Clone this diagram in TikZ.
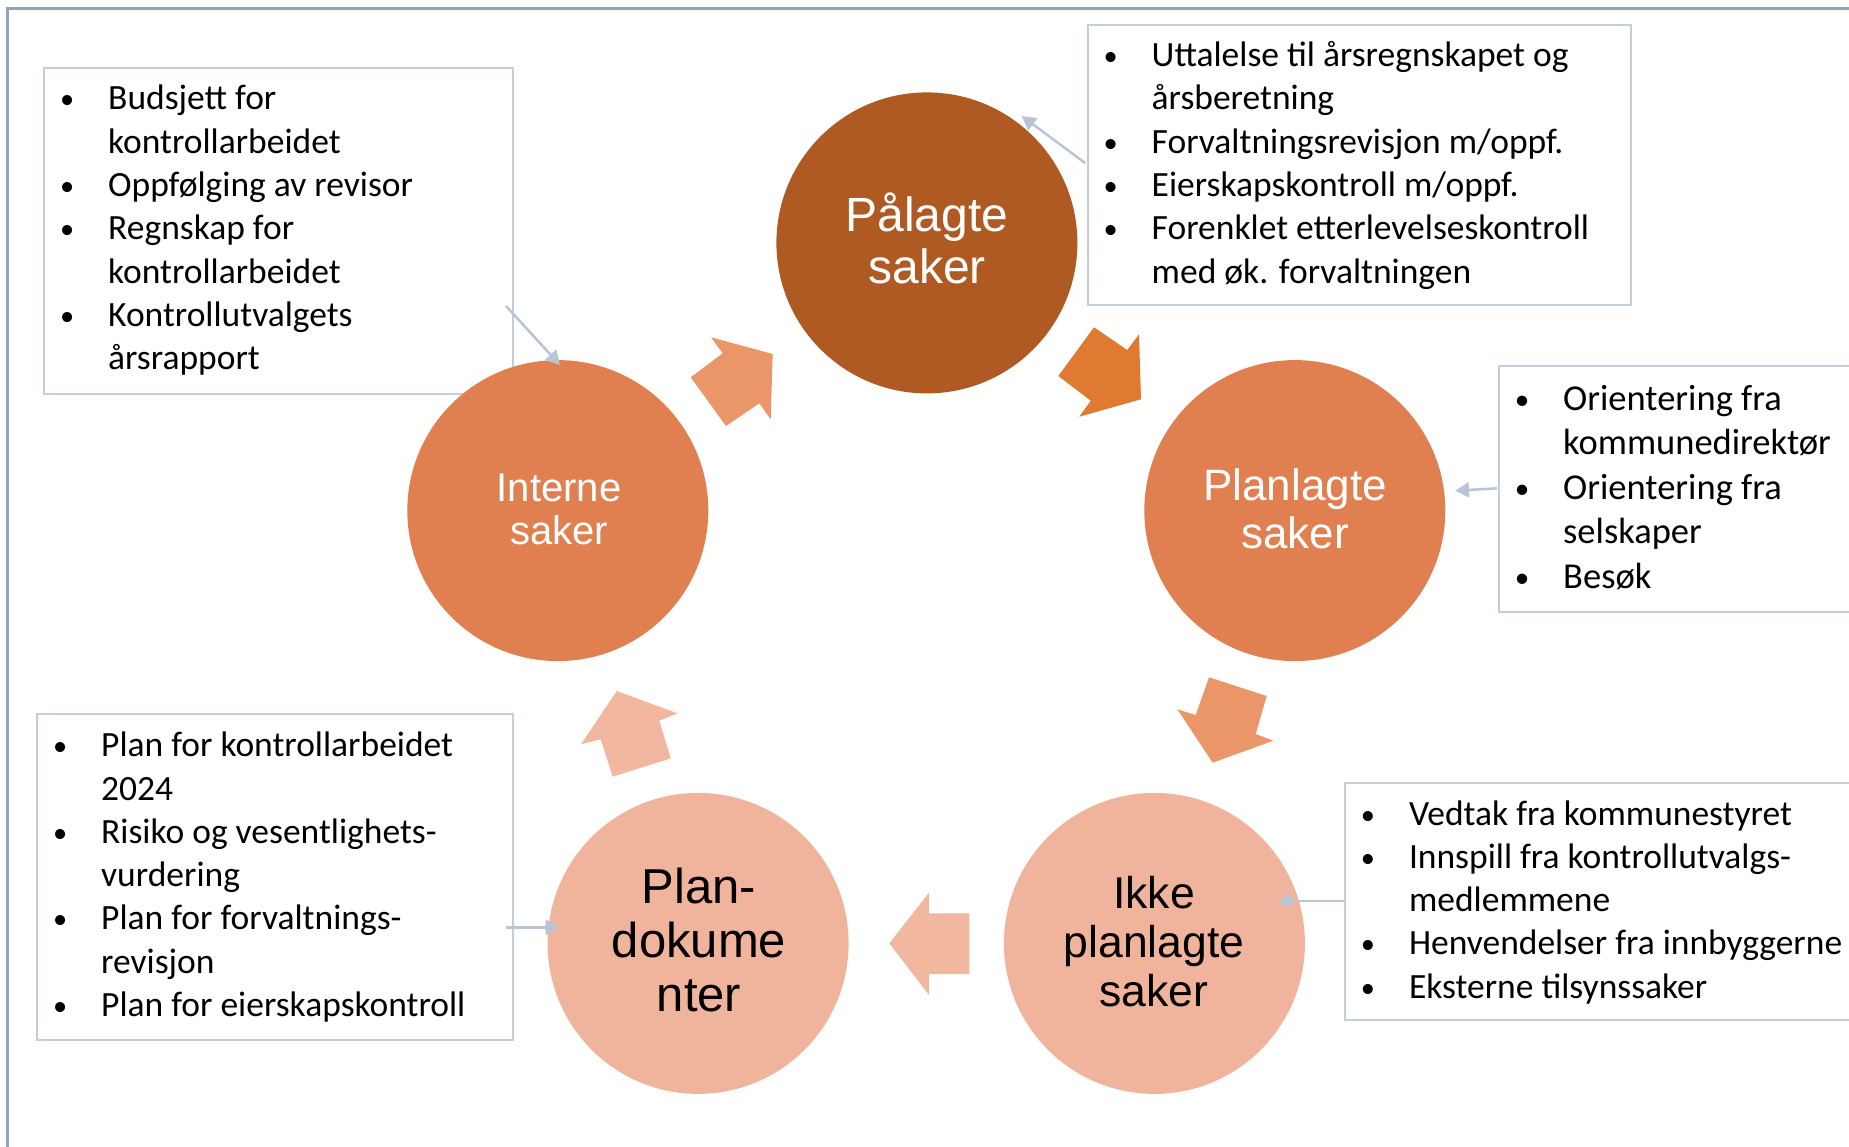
\documentclass[tikz,border=0pt]{standalone}
\usepackage{fontspec}
\setmainfont{Carlito}
\newfontfamily\arialf{Liberation Sans}
\usetikzlibrary{arrows.meta}
\definecolor{framec}{HTML}{8FA3BD}
\definecolor{boxc}{HTML}{C3CEDC}
\definecolor{conc}{HTML}{B7C5D6}
\definecolor{darkc}{HTML}{AE5A22}
\definecolor{midc}{HTML}{E08050}
\definecolor{lightc}{HTML}{F0B49C}
\definecolor{arA}{HTML}{E07A32}
\definecolor{arB}{HTML}{EB9668}
\definecolor{arC}{HTML}{F1B79F}
\newcommand{\bitem}{\leavevmode\llap{\makebox[16pt][c]{\raisebox{1pt}{\scalebox{0.8}{•}}}\hspace{33pt}}}
\newcommand{\blst}[2]{\parbox[t]{#1}{\raggedright\fontsize{35.5}{43.3}\selectfont #2}}
\newcommand{\clab}[3]{\parbox[t]{300pt}{\centering\arialf\fontsize{#1}{#2}\selectfont #3}}
\tikzset{
  infobox/.style={draw=boxc, line width=2pt, fill=white, rectangle, inner sep=0pt, anchor=north west},
  listtext/.style={anchor=base west, inner sep=0pt, text=black},
  bubble/.style={circle, inner sep=0pt, minimum size=301pt},
  bubtext/.style={anchor=base, inner sep=0pt},
  conn/.style={draw=conc, line width=2.5pt, -{Triangle[length=14pt,width=15pt]}},
}
\begin{document}
\begin{tikzpicture}[x=1pt,y=-1pt]
\useasboundingbox (0,0) rectangle (1849,1147);
\clip (0,0) rectangle (1849,1147);
\fill[white] (0,0) rectangle (1849,1147);
% outer frame
\draw[framec, line width=3pt] (7,1160) -- (7,9) -- (1860,9);

% info boxes (behind the circles)
\node[infobox, minimum width=469pt, minimum height=325pt] (b1) at (42.5,67.5) {};
\node[infobox, minimum width=543pt, minimum height=280.5pt] (b2) at (1086.5,24) {};
\node[infobox, minimum width=380pt, minimum height=245.5pt] (b3) at (1497.5,365) {};
\node[infobox, minimum width=530pt, minimum height=237pt] (b4) at (1343.8,782.3) {};
\node[infobox, minimum width=475.8pt, minimum height=325.4pt] (b5) at (36.2,713.3) {};

\node[listtext] (t1) at (108,110) {\blst{400pt}{\bitem Budsjett for\\kontrollarbeidet\\\bitem Oppfølging av revisor\\\bitem Regnskap for\\kontrollarbeidet\\\bitem Kontrollutvalgets\\årsrapport}};
\node[listtext] (t2) at (1151.5,66.7) {\blst{470pt}{\bitem Uttalelse til årsregnskapet og\\årsberetning\\\bitem Forvaltningsrevisjon m/oppf.\\\bitem Eierskapskontroll m/oppf.\\\bitem Forenklet etterlevelseskontroll\\med øk. forvaltningen}};
\node[listtext] (t3) at (1563,410) {\parbox[t]{300pt}{\raggedright\fontsize{36.5}{44.6}\selectfont \bitem Orientering fra\\kommunedirektør\\\bitem Orientering fra\\selskaper\\\bitem Besøk}};
\node[listtext] (t4) at (1408.8,825) {\blst{470pt}{\bitem Vedtak fra kommunestyret\\\bitem Innspill fra kontrollutvalgs-\\medlemmene\\\bitem Henvendelser fra innbyggerne\\\bitem Eksterne tilsynssaker}};
\node[listtext] (t5) at (101,756.7) {\blst{420pt}{\bitem Plan for kontrollarbeidet\\2024\\\bitem Risiko og vesentlighets-\\vurdering\\\bitem Plan for forvaltnings-\\revisjon\\\bitem Plan for eierskapskontroll}};

% circles
\node[bubble, fill=darkc] (pal) at (926.9,242.9) {};
\node[bubble, fill=midc] (plan) at (1294.8,510.6) {};
\node[bubble, fill=lightc] (ikke) at (1154.4,943.4) {};
\node[bubble, fill=lightc] (pdok) at (698.1,943.4) {};
\node[bubble, fill=midc] (intr) at (557.8,510.6) {};

\node[bubtext, text=white] (palT) at (927,231.7) {\clab{48}{51.6}{Pålagte\\saker}};
\node[bubtext, text=white] (planT) at (1295,500) {\clab{44}{48.3}{Planlagte\\saker}};
\node[bubtext, text=white] (intrT) at (559,501) {\clab{40}{43.3}{Interne\\saker}};
\node[bubtext, text=black] (ikkeT) at (1154,908.3) {\clab{44.5}{49}{Ikke\\planlagte\\saker}};
\node[bubtext, text=black] (pdokT) at (699,903.3) {\clab{49}{54.2}{Plan-\\dokume\\nter}};

% block arrows
\fill[arA] (1058.3,376) -- (1094,327.3) -- (1127.3,350) -- (1139,334.3) -- (1141,399.3) -- (1079.3,416.7) -- (1090.7,400.7) -- cycle;
\fill[arB] (1209,677.3) -- (1266.7,696) -- (1255.7,734) -- (1273.3,740.7) -- (1212.7,762.7) -- (1177.3,709.3) -- (1195.7,715) -- cycle;
\fill[arC] (889.3,943.3) -- (929,892.7) -- (929,913.3) -- (969.3,913.3) -- (969.3,974) -- (929,974) -- (929,995) -- cycle;
\fill[arC] (616.7,691) -- (677.3,713.3) -- (659.3,720.7) -- (670.7,758.3) -- (612.7,776.7) -- (600.7,739.3) -- (581,744.3) -- cycle;
\fill[arB] (711,337.3) -- (722.7,353.3) -- (690.7,377.3) -- (726,426) -- (759.3,403.3) -- (770.7,419.3) -- (772.7,354) -- cycle;

% connectors
\coordinate (c1s) at (506,306);
\coordinate (c1e) at (560,365);
\coordinate (c2s) at (1085.5,163.3);
\coordinate (c2e) at (1021.7,116);
\coordinate (c3s) at (1497,488.3);
\coordinate (c3e) at (1455,490.7);
\coordinate (c4s) at (1343.8,901);
\coordinate (c4e) at (1277,901);
\coordinate (c5s) at (506.3,927.3);
\coordinate (c5e) at (559.7,927.3);
\draw[conn] (c1s) -- (c1e);
\draw[conn] (c2s) -- (c2e);
\draw[conn] (c3s) -- (c3e);
\draw[conn] (c4s) -- (c4e);
\draw[conn] (c5s) -- (c5e);
\end{tikzpicture}
\end{document}
